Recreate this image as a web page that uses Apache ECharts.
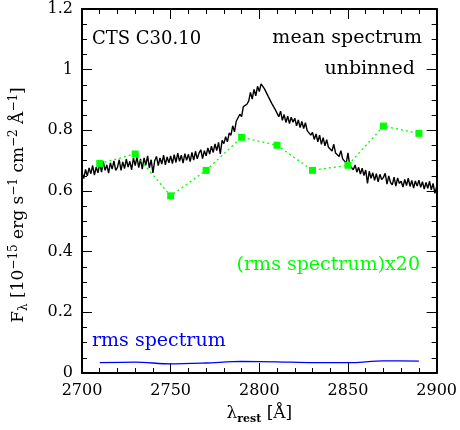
<!DOCTYPE html>
<html>
<head>
<meta charset="utf-8">
<title>CTS C30.10 mean spectrum</title>
<script src="https://cdn.jsdelivr.net/npm/echarts@6/dist/echarts.min.js"></script>
<style>
  html, body { margin: 0; padding: 0; background: #fff; }
  #chart { width: 460px; height: 430px; }
</style>
</head>
<body>
<div id="chart"></div>
<script>
// mean spectrum, unbinned, 1 A per sample starting at 2700 A
const meanStart = 2700
const meanFlux = [
  0.662, 0.641, 0.671, 0.650, 0.676, 0.657, 0.684, 0.652, 0.679, 0.660,
  0.690, 0.662, 0.697, 0.668, 0.686, 0.659, 0.693, 0.672, 0.699, 0.668,
  0.678, 0.703, 0.668, 0.696, 0.674, 0.705, 0.679, 0.698, 0.670, 0.709,
  0.684, 0.712, 0.677, 0.706, 0.672, 0.709, 0.685, 0.716, 0.676, 0.703,
  0.660, 0.700, 0.714, 0.684, 0.709, 0.689, 0.718, 0.686, 0.712, 0.693,
  0.716, 0.690, 0.720, 0.694, 0.725, 0.698, 0.718, 0.692, 0.723, 0.701,
  0.721, 0.697, 0.727, 0.702, 0.731, 0.706, 0.725, 0.736, 0.707, 0.733,
  0.716, 0.742, 0.722, 0.748, 0.727, 0.755, 0.733, 0.760, 0.722, 0.767,
  0.756, 0.779, 0.762, 0.791, 0.784, 0.815, 0.795, 0.830, 0.828, 0.853,
  0.845, 0.878, 0.877, 0.886, 0.896, 0.925, 0.903, 0.935, 0.914, 0.945,
  0.928, 0.953, 0.958, 0.936, 0.934, 0.912, 0.909, 0.889, 0.886, 0.868,
  0.867, 0.845, 0.863, 0.833, 0.852, 0.826, 0.847, 0.822, 0.843, 0.827,
  0.840, 0.815, 0.834, 0.809, 0.829, 0.806, 0.825, 0.799, 0.801, 0.784,
  0.793, 0.770, 0.788, 0.762, 0.784, 0.754, 0.776, 0.749, 0.769, 0.744,
  0.750, 0.732, 0.754, 0.725, 0.731, 0.714, 0.733, 0.706, 0.710, 0.692,
  0.726, 0.684, 0.689, 0.670, 0.686, 0.662, 0.678, 0.656, 0.675, 0.651,
  0.669, 0.625, 0.665, 0.642, 0.660, 0.635, 0.657, 0.630, 0.655, 0.638,
  0.645, 0.658, 0.623, 0.650, 0.628, 0.620, 0.646, 0.616, 0.643, 0.625,
  0.632, 0.613, 0.638, 0.618, 0.642, 0.615, 0.635, 0.610, 0.633, 0.616,
  0.636, 0.612, 0.631, 0.606, 0.628, 0.609, 0.632, 0.604, 0.625, 0.592,
  0.614
]

// binned rms spectrum
const rmsWave = [2710, 2730, 2750, 2770, 2790, 2810, 2830, 2850, 2870, 2890]
const rmsFlux = [0.034, 0.036, 0.030, 0.033, 0.038, 0.037, 0.034, 0.034, 0.040, 0.039]
const rmsX20 = [0.691, 0.722, 0.584, 0.668, 0.777, 0.751, 0.668, 0.685, 0.814, 0.790]

const xTicks = { min: 2700, max: 2900, interval: 50 }
const yTicks = { min: 0, max: 1.2, interval: 0.2 }

const serif = 'DejaVu Serif'

const meanData = meanFlux.map((v, i) => [meanStart + i, v])
const rmsData = rmsWave.map((w, i) => [w, rmsFlux[i]])
const rms20Data = rmsWave.map((w, i) => [w, rmsX20[i]])

function frameAxis(extra) {
  return Object.assign({
    type: 'value',
    splitLine: { show: false },
    axisLine: { show: true, onZero: false, lineStyle: { color: '#000', width: 2 } },
    axisTick: { show: true, inside: true, length: 10, lineStyle: { color: '#000', width: 1 } },
    minorTick: { show: true, length: 5, lineStyle: { color: '#000', width: 1 } },
    axisLabel: { show: false }
  }, extra)
}

const label = { show: true, color: '#000', fontFamily: serif, fontSize: 16, margin: 9 }

const chart = echarts.init(document.getElementById('chart'))
chart.setOption({
  animation: false,
  backgroundColor: '#fff',
  grid: { left: 74, right: 22, top: 9, bottom: 57 },
  xAxis: [
    frameAxis(Object.assign({}, xTicks, {
      position: 'bottom',
      minorTick: { show: true, splitNumber: 5, length: 5, lineStyle: { color: '#000' } },
      axisLabel: Object.assign({}, label, { margin: 10, formatter: v => String(v) }),
      name: '{t|λ}{sub|rest}{t| [Å]}',
      nameLocation: 'middle',
      nameGap: 30,
      nameTextStyle: {
        rich: {
          t: { fontFamily: serif, fontSize: 17, color: '#000', lineHeight: 22 },
          sub: { fontFamily: serif, fontSize: 11, fontWeight: 'bold', color: '#000', verticalAlign: 'bottom', lineHeight: 14 }
        }
      }
    })),
    frameAxis(Object.assign({}, xTicks, {
      position: 'top',
      minorTick: { show: true, splitNumber: 5, length: 5, lineStyle: { color: '#000' } }
    }))
  ],
  yAxis: [
    frameAxis(Object.assign({}, yTicks, {
      position: 'left',
      minorTick: { show: true, splitNumber: 4, length: 5, lineStyle: { color: '#000' } },
      axisLabel: label,
      name: '{t|F}{sub|λ}{t| [10}{sup|−15}{t| erg s}{sup|−1}{t| cm}{sup|−2}{t| Å}{sup|−1}{t|]}',
      nameLocation: 'middle',
      nameRotate: 90,
      nameGap: 52,
      nameTextStyle: {
        padding: [0, 28, 0, 0],
        rich: {
          t: { fontFamily: serif, fontSize: 17, color: '#000', lineHeight: 22 },
          sup: { fontFamily: serif, fontSize: 12, color: '#000', verticalAlign: 'top', lineHeight: 12 },
          sub: { fontFamily: serif, fontSize: 12, color: '#000', verticalAlign: 'bottom', lineHeight: 12 }
        }
      }
    })),
    frameAxis(Object.assign({}, yTicks, {
      position: 'right',
      minorTick: { show: true, splitNumber: 4, length: 5, lineStyle: { color: '#000' } }
    }))
  ],
  series: [
    {
      name: 'mean spectrum',
      type: 'line',
      data: meanData,
      showSymbol: false,
      lineStyle: { color: '#000', width: 1.4 },
      z: 2
    },
    {
      name: 'rms spectrum',
      type: 'line',
      data: rmsData,
      showSymbol: false,
      smooth: 0.3,
      lineStyle: { color: '#0000ff', width: 1.3 },
      z: 3
    },
    {
      name: '(rms spectrum)x20',
      type: 'line',
      data: rms20Data,
      symbol: 'rect',
      symbolSize: 7,
      itemStyle: { color: '#00ff00' },
      lineStyle: { color: '#00ff00', width: 1.3, type: [2, 3] },
      z: 4
    }
  ],
  graphic: [
    { type: 'text', left: 92, top: 30, style: { text: 'CTS C30.10', font: '18px "DejaVu Serif"', fill: '#000' } },
    { type: 'text', right: 38, top: 29, style: { text: 'mean spectrum', font: '19px "DejaVu Serif"', fill: '#000' } },
    { type: 'text', right: 45, top: 60, style: { text: 'unbinned', font: '19px "DejaVu Serif"', fill: '#000' } },
    { type: 'text', right: 40, top: 256, style: { text: '(rms spectrum)x20', font: '19px "DejaVu Serif"', fill: '#00ff00' } },
    { type: 'text', left: 92, top: 332, style: { text: 'rms spectrum', font: '19px "DejaVu Serif"', fill: '#0000ff' } }
  ]
})
</script>
</body>
</html>
